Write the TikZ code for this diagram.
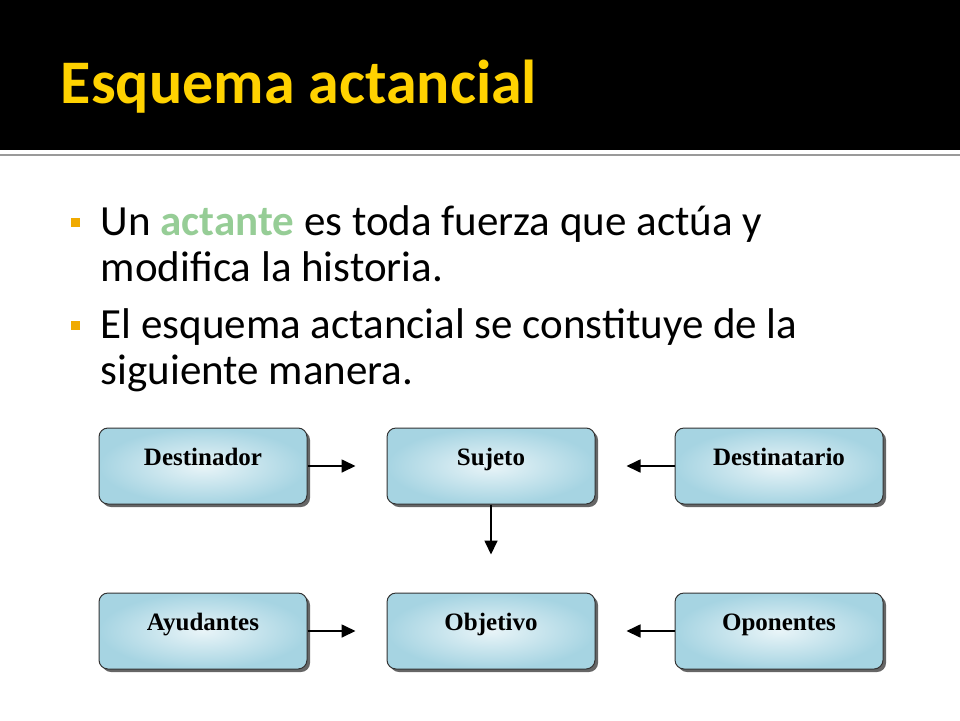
\documentclass[tikz,border=0pt]{standalone}
\usepackage{fontspec}
\setmainfont{Carlito}
\newfontfamily\boxfont{Liberation Serif}
\usetikzlibrary{arrows.meta, positioning, shadows}

\definecolor{titleyellow}{RGB}{255,210,0}
\definecolor{bulletorange}{RGB}{240,170,0}
\definecolor{actgreen}{RGB}{150,205,150}
\definecolor{boxblue}{RGB}{166,212,226}

\begin{document}
\begin{tikzpicture}[
        x = 1pt, y = -1pt,
        > = {Triangle[length=14pt, width=13pt]}, % arrow head style
        shorten > = 31pt, % leave a gap before the next box
        node distance = 88pt and 79pt, % distance between boxes
        line width = 1.7pt % line style
    ]

    \tikzstyle{actor}=[
        draw = black!80,
        line width = 1pt,
        rounded corners = 9pt,
        inner color = boxblue!25,
        outer color = boxblue,
        drop shadow = {shadow xshift=3pt, shadow yshift=-3pt, fill=black!60, opacity=1},
        minimum width = 208pt,
        minimum height = 76pt,
        text height = 15pt,
        text depth = 17pt,
        font = \boxfont\bfseries\fontsize{25}{25}\selectfont
    ]
    \tikzstyle{textline}=[
        anchor = base west,
        inner sep = 0pt,
        text = black,
        font = \fontsize{43}{43}\selectfont
    ]
    \tikzstyle{bullet}=[
        fill = bulletorange,
        minimum size = 9pt,
        inner sep = 0pt
    ]

    % slide background and title band
    \useasboundingbox (0,0) rectangle (960,720);
    \fill[black] (0,0) rectangle (960,150);
    \draw[black!40, line width = 2.5pt, shorten > = 0pt] (0,155) -- (960,155);

    \node[anchor = base west, inner sep = 0pt, text = titleyellow,
        font = \bfseries\fontsize{62}{62}\selectfont] (title) at (60,103) {Esquema actancial};

    % bullet text
    \node[bullet] (b1) at (75,222) {};
    \node[textline] (l1) at (100,235) {Un \textcolor{actgreen}{\bfseries actante} es toda fuerza que actúa y};
    \node[textline] (l2) at (100,281) {modifica la historia.};
    \node[bullet] (b2) at (75,325) {};
    \node[textline] (l3) at (100,338) {El esquema actancial se constituye de la};
    \node[textline] (l4) at (100,384) {siguiente manera.};

    % actants
    \node[actor] (dor) at (203,466) {Destinador};
    \node[actor] (suj) [right=of dor] {Sujeto};
    \node[actor] (dta) [right=of suj] {Destinatario};
    \node[actor] (ayu) [below=of dor] {Ayudantes};
    \node[actor] (obj) [below=of suj] {Objetivo};
    \node[actor] (opo) [below=of dta] {Oponentes};

    \path[->] (dor) edge node {} (suj);
    \path[->] (dta) edge node {} (suj);
    \path[->, shorten > = 38pt] (suj) edge node {} (obj);
    \path[->] (ayu) edge node {} (obj);
    \path[->] (opo) edge node {} (obj);
\end{tikzpicture}
\end{document}
